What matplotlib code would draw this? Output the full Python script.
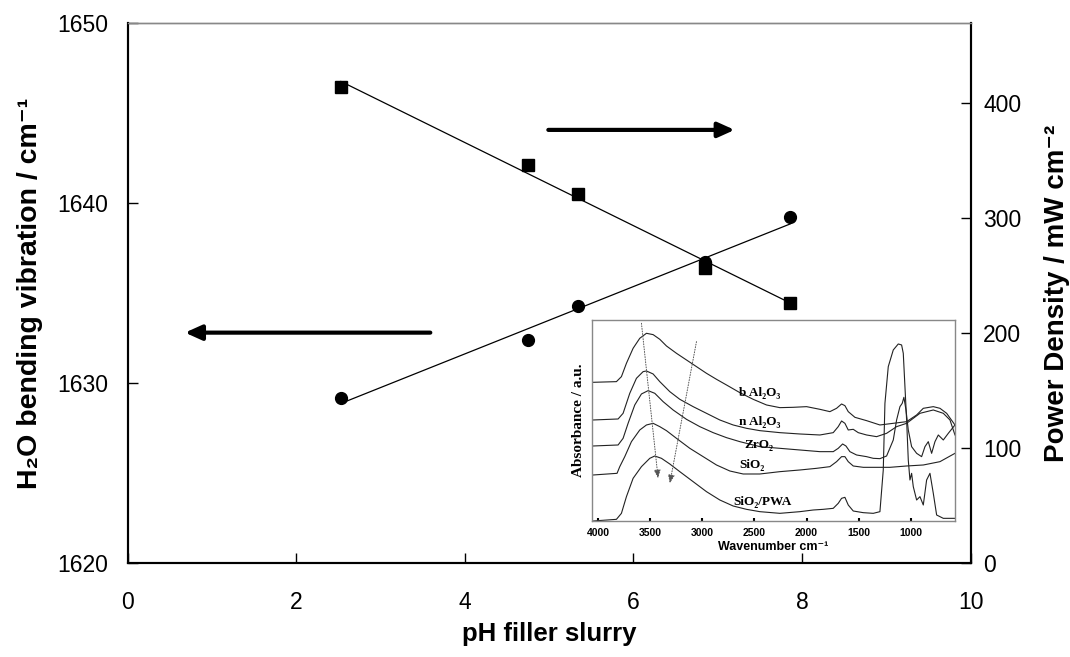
import numpy as np
import matplotlib.pyplot as plt

# main data: pH of filler slurry vs H2O bending band and power density
ph = [2.53, 4.75, 5.34, 6.85, 7.86]
bending = [1629.2, 1632.4, 1634.3, 1636.7, 1639.2]
power = [414, 346, 321, 257, 226]

# inset IR spectra (wavenumber cm-1, absorbance a.u.)
w_bal = [4048, 3824, 3776, 3728, 3664, 3600, 3536, 3472, 3408, 3344, 3248, 3152, 3056, 2960, 2864, 2768, 2640,
         2512, 2384, 2256, 2128, 2000, 1872, 1776, 1712, 1664, 1632, 1600, 1536, 1424, 1296, 1168, 1040, 944,
         880, 784, 720, 656, 576]
a_bal = [416, 418, 433, 473, 518, 548, 563, 559, 545, 525, 503, 483, 463, 443, 425, 408, 385, 365, 348, 340,
         341, 343, 335, 328, 338, 351, 346, 328, 311, 301, 288, 293, 298, 318, 338, 343, 338, 323, 288]
w_nal = [4048, 3808, 3760, 3696, 3632, 3568, 3536, 3472, 3408, 3312, 3216, 3088, 2960, 2832, 2704, 2576, 2448,
         2256, 2064, 1872, 1744, 1696, 1664, 1632, 1600, 1552, 1504, 1424, 1328, 1232, 1136, 1040, 912, 784,
         688, 624, 576]
a_nal = [303, 306, 323, 383, 428, 448, 450, 441, 418, 388, 365, 343, 323, 303, 288, 278, 271, 265, 261, 258,
         265, 283, 300, 293, 273, 275, 265, 258, 253, 263, 283, 293, 323, 333, 323, 303, 258]
w_zr = [4048, 3808, 3760, 3712, 3648, 3584, 3520, 3456, 3376, 3280, 3152, 3024, 2896, 2768, 2640, 2448, 2256,
        2064, 1872, 1744, 1696, 1654, 1622, 1584, 1520, 1424, 1360, 1296, 1232, 1168, 1136, 1104, 1082, 1066,
        1046, 1024, 992, 944, 896, 864, 832, 800, 768, 736, 688, 640, 576]
a_zr = [225, 228, 248, 293, 348, 381, 391, 383, 358, 333, 305, 283, 265, 250, 238, 223, 218, 213, 208, 208,
        218, 231, 225, 208, 198, 193, 188, 187, 195, 243, 303, 343, 353, 371, 333, 273, 223, 203, 193, 223,
        238, 203, 238, 258, 243, 263, 288]
w_si = [4048, 3818, 3792, 3744, 3680, 3600, 3536, 3472, 3408, 3344, 3248, 3120, 2992, 2864, 2736, 2608, 2448,
        2256, 2064, 1904, 1776, 1712, 1664, 1632, 1600, 1552, 1456, 1360, 1200, 1040, 880, 720, 576]
a_si = [138, 143, 163, 193, 238, 273, 288, 293, 283, 271, 248, 218, 193, 168, 150, 141, 141, 148, 153, 158,
        163, 178, 193, 193, 178, 165, 161, 161, 161, 165, 168, 178, 203]
w_pwa = [4048, 3824, 3776, 3728, 3664, 3584, 3504, 3456, 3392, 3312, 3216, 3088, 2960, 2832, 2704, 2576, 2448,
         2256, 2064, 1936, 1840, 1744, 1696, 1664, 1632, 1600, 1552, 1456, 1360, 1296, 1264, 1248, 1216, 1168,
         1120, 1088, 1072, 1056, 1040, 1024, 1008, 992, 976, 944, 912, 880, 848, 816, 784, 752, 688, 576]
a_pwa = [0, 5, 23, 73, 128, 163, 188, 195, 188, 171, 148, 118, 88, 63, 45, 35, 28, 23, 28, 33, 35, 38, 53, 68,
         71, 48, 30, 25, 23, 28, 153, 353, 463, 513, 531, 528, 503, 403, 303, 183, 123, 143, 103, 63, 73, 48,
         123, 143, 83, 18, 8, 8]
spec_labels = ['b Al\u2082O\u2083', 'n Al\u2082O\u2083', 'ZrO\u2082', 'SiO\u2082', 'SiO\u2082/PWA']
label_pos = [(2646, 383), (2646, 298), (2600, 228), (2646, 168), (2700, 58)]

sans = ['Liberation Sans', 'DejaVu Sans']
serif = ['Liberation Serif', 'DejaVu Serif']
plt.rcParams['font.family'] = sans

fig = plt.figure(figsize=(10.7, 6.57), dpi=100)
ax = fig.add_axes([0.1193, 0.1426, 0.7879, 0.8229])
ax2 = ax.twinx()

ax.plot(ph, bending, 'o', color='black', ms=8.5, zorder=3)
k, b = np.polyfit(ph, bending, 1)
xx = np.array([min(ph), max(ph)])
ax.plot(xx, k * xx + b, color='black', lw=0.9)

ax2.plot(ph, power, 's', color='black', ms=9, zorder=3)
k2, b2 = np.polyfit(ph, power, 1)
ax2.plot(xx, k2 * xx + b2, color='black', lw=0.9)

ax.set_xlim(0, 10)
ax.set_ylim(1620, 1650)
ax2.set_ylim(0, 470)
ax.set_xticks(range(0, 11, 2))
ax.set_yticks([1620, 1630, 1640, 1650])
ax2.set_yticks([0, 100, 200, 300, 400])

ax.tick_params(axis='x', direction='in', length=7, width=1, labelsize=16.5, pad=20)
ax.tick_params(axis='y', direction='in', length=7, width=1, labelsize=16.5, pad=14)
ax2.tick_params(axis='y', direction='in', length=7, width=1, labelsize=16.5, pad=9)
for a in (ax, ax2):
    a.spines['top'].set_color('#888888')
    a.spines['top'].set_linewidth(1)
    for s in ('left', 'bottom', 'right'):
        a.spines[s].set_linewidth(1.5)

ax.set_xlabel('pH filler slurry', fontsize=18.5, fontweight='bold')
ax.xaxis.set_label_coords(0.5, -0.108)
ax.set_ylabel('H\u2082O bending vibration / cm\u207b\u00b9', fontsize=20.5, fontweight='bold')
ax.yaxis.set_label_coords(-0.1, 0.5)
ax2.set_ylabel('Power Density / mW cm\u207b\u00b2', fontsize=20, fontweight='bold')
ax2.yaxis.set_label_coords(1.087, 0.5)

# direction arrows
arr = dict(arrowstyle='-|>,head_length=1.0,head_width=0.45', color='black', lw=3, shrinkA=0, shrinkB=0)
ax.annotate('', xy=(7.2, 1644.05), xytext=(4.99, 1644.05), arrowprops=arr)
ax.annotate('', xy=(0.68, 1632.8), xytext=(3.59, 1632.8), arrowprops=arr)

# inset
ins = fig.add_axes([0.5533, 0.207, 0.3393, 0.306])
for w, a in [(w_bal, a_bal), (w_nal, a_nal), (w_zr, a_zr), (w_si, a_si), (w_pwa, a_pwa)]:
    ins.plot(w, a, color='#222222', lw=0.8)
for lab, (lx, ly) in zip(spec_labels, label_pos):
    ins.text(lx, ly, lab, family=serif, fontweight='bold', fontsize=9.5, ha='left', va='center')
darr = dict(arrowstyle='-|>,head_length=0.5,head_width=0.2', color='#555555', lw=0.7, ls=':',
            shrinkA=0, shrinkB=0)
ins.annotate('', xy=(3424, 128), xytext=(3584, 593), arrowprops=darr)
ins.annotate('', xy=(3312, 113), xytext=(3056, 538), arrowprops=darr)
ins.set_xlim(4058, 575)
ins.set_ylim(0, 603)
ins.set_xticks([4000, 3500, 3000, 2500, 2000, 1500, 1000])
ins.set_yticks([])
ins.tick_params(axis='x', direction='in', length=2, width=1.5, labelsize=7.5, pad=5)
for t in ins.get_xticklabels():
    t.set_fontweight('bold')
for s in ins.spines.values():
    s.set_color('#888888')
    s.set_linewidth(1)
ins.set_xlabel('Wavenumber cm\u207b\u00b9', fontsize=9, fontweight='bold', labelpad=2)
ins.set_ylabel('Absorbance / a.u.', family=serif, fontsize=11, fontweight='bold', labelpad=5)

fig.savefig('out.png', dpi=100)
